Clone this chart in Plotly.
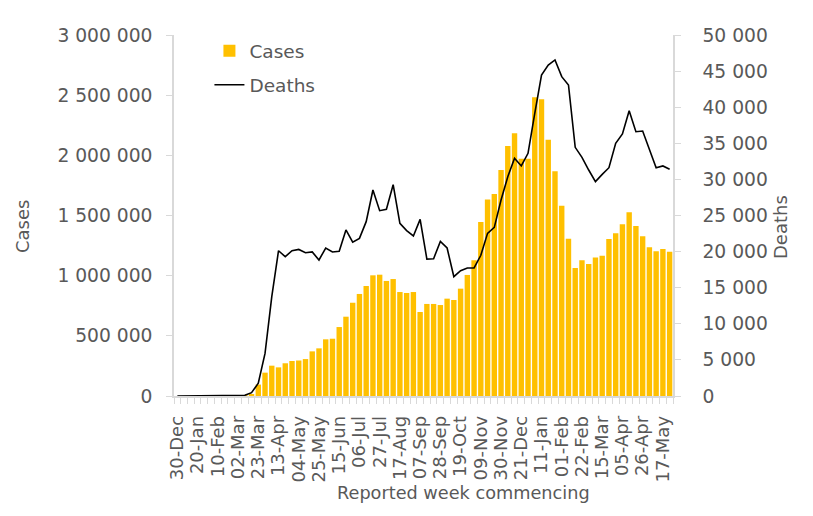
import pandas as pd
import plotly.graph_objects as go

# Weekly categories (week commencing), 30-Dec-2019 .. 24-May-2021
week_dates = pd.date_range("2019-12-30", periods=74, freq="7D")
weeks = [d.strftime("%Y-%m-%d") for d in week_dates]
week_labels = [d.strftime("%d-%b") for d in week_dates]

cases = [
    0, 0, 0, 0, 0, 0, 0, 0, 0, 0, 1000, 12000,
    95000, 194000, 252000, 238000, 272000, 291000, 295000, 307000, 371000, 396000,
    471000, 476000, 573000, 659000, 775000, 848000, 914000, 1003000, 1008000, 956000,
    972000, 864000, 856000, 864000, 698000, 765000, 765000, 756000, 809000, 798000,
    892000, 1006000, 1128000, 1446000, 1634000, 1679000, 1878000, 2078000, 2183000, 1972000,
    1972000, 2482000, 2466000, 2130000, 1867000, 1582000, 1307000, 1064000, 1128000, 1097000,
    1150000, 1166000, 1305000, 1352000, 1427000, 1527000, 1413000, 1327000, 1236000, 1202000,
    1222000, 1199000,
]

deaths = [
    0, 0, 0, 0, 0, 0, 0, 0, 0, 20, 100, 460,
    1760, 5900, 13750, 20120, 19300, 20120, 20300, 19850, 19950, 18840,
    20500, 19950, 20040, 23000, 21300, 21840, 24150, 28530, 25670, 25860,
    29270, 23920, 22900, 22160, 24470, 18970, 19020, 21420, 20500, 16530,
    17350, 17730, 17730, 19490, 22530, 23360, 27150, 30380, 32920, 31860,
    33610, 39150, 44460, 45840, 46540, 44230, 43070, 34440, 33060, 31300,
    29690, 30700, 31620, 35000, 36290, 39520, 36610, 36700, 34070, 31620,
    31860, 31400,
]

tick_text = [lab if i % 3 == 0 else "" for i, lab in enumerate(week_labels)]

FONT = "DejaVu Sans"
TXT = "#595959"
AXC = "#d9d9d9"

fig = go.Figure()
fig.add_trace(go.Bar(
    x=weeks, y=cases, name="Cases", marker=dict(color="#FFC000", line=dict(width=0)),
    yaxis="y", legendgroup="a",
))
fig.add_trace(go.Scatter(
    x=weeks, y=deaths, name="Deaths", mode="lines",
    line=dict(color="#000000", width=1.6), yaxis="y2", legendgroup="b",
))

fig.update_layout(
    width=805, height=508,
    margin=dict(l=166, r=140, t=27, b=120, autoexpand=False),
    paper_bgcolor="white", plot_bgcolor="white",
    font=dict(family=FONT, size=17, color=TXT),
    separators=". ",
    bargap=0.2,
    showlegend=True,
    legend=dict(x=0.071, y=1.008, xanchor="left", yanchor="top",
                bgcolor="rgba(0,0,0,0)", font=dict(size=18.5, color=TXT),
                traceorder="grouped", tracegroupgap=7),
    xaxis=dict(
        type="category", tickmode="array", tickvals=weeks, ticktext=tick_text,
        tickangle=-90, tickson="boundaries", ticks="outside", ticklen=6,
        tickcolor=AXC, showline=True, linecolor=AXC, linewidth=1.5,
        showgrid=False, zeroline=False, range=[-0.5, 73.5], ticklabelstandoff=11,
        tickfont=dict(size=18, color=TXT), automargin=False,
    ),
    yaxis=dict(
        range=[0, 3000000], dtick=500000, tickformat=",d",
        ticks="outside", ticklen=6, tickcolor=AXC, showline=True, linecolor=AXC,
        linewidth=1.5, showgrid=False, zeroline=False, ticklabelstandoff=10,
        tickfont=dict(size=18.7, color=TXT), automargin=False,
    ),
    yaxis2=dict(
        range=[0, 50000], dtick=5000, tickformat=",d", overlaying="y", side="right",
        ticks="outside", ticklen=6, tickcolor=AXC, showline=True, linecolor=AXC,
        linewidth=1.5, showgrid=False, zeroline=False, ticklabelstandoff=18,
        tickfont=dict(size=18.7, color=TXT), automargin=False,
    ),
    annotations=[
        dict(text="Reported week commencing", xref="paper", yref="paper",
             x=0.581, y=-0.2687, xanchor="center", yanchor="middle", showarrow=False,
             font=dict(size=17.7, color=TXT)),
        dict(text="Cases", xref="paper", yref="paper", textangle=-90,
             x=-0.3046, y=0.468, xanchor="center", yanchor="middle", showarrow=False,
             font=dict(size=18, color=TXT)),
        dict(text="Deaths", xref="paper", yref="paper", textangle=-90,
             x=1.2144, y=0.468, xanchor="center", yanchor="middle", showarrow=False,
             font=dict(size=18, color=TXT)),
    ],
)

fig.write_html("out.html")
